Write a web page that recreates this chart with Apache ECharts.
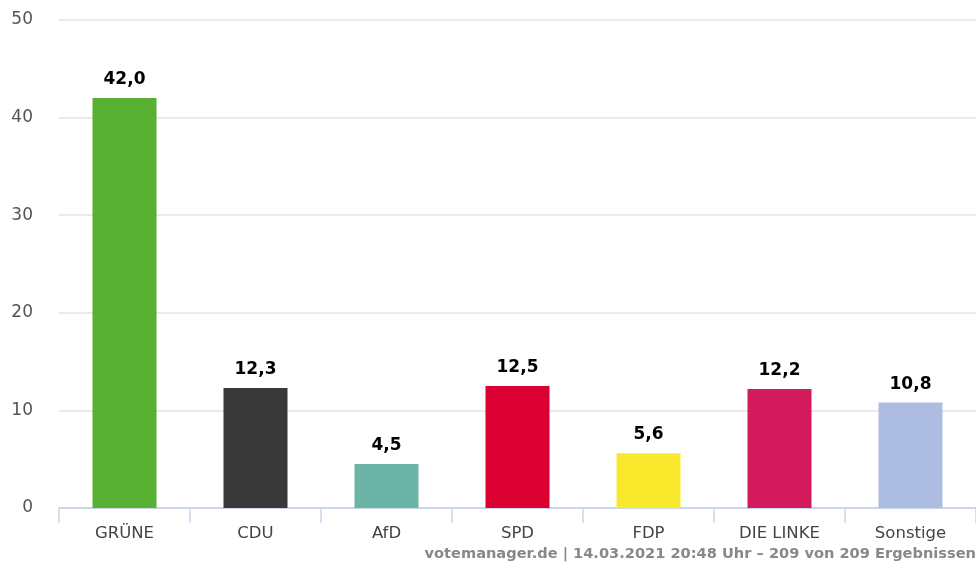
<!DOCTYPE html>
<html>
<head>
<meta charset="utf-8">
<script src="https://cdn.jsdelivr.net/npm/echarts@6/dist/echarts.min.js"></script>
<style>
  html, body { margin: 0; padding: 0; background: #fff; }
  #main { width: 976px; height: 565px; }
</style>
</head>
<body>
<div id="main"></div>
<script>
// Parteien und Ergebnisse (%)
var parties = ['GRÜNE', 'CDU', 'AfD', 'SPD', 'FDP', 'DIE LINKE', 'Sonstige'];
var results = [42.0, 12.3, 4.5, 12.5, 5.6, 12.2, 10.8];
var partyColors = ['#57b031', '#383838', '#6cb4a5', '#dc0032', '#f9e92d', '#d21a5c', '#adbde2'];
var yTicks = [0, 10, 20, 30, 40, 50];

var myChart = echarts.init(document.getElementById('main'));

var option = {
    animation: false,
    textStyle: { fontFamily: 'DejaVu Sans' },
    grid: { left: 59, top: 20, width: 919, bottom: 57 },
    xAxis: {
        type: 'category',
        data: parties,
        axisLine: { lineStyle: { color: '#ccd6eb', width: 2 } },
        axisTick: { show: true, length: 15, lineStyle: { color: '#ccd6eb', width: 1.5 } },
        axisLabel: { color: '#444', fontSize: 16.5, margin: 17 }
    },
    yAxis: {
        type: 'value',
        min: yTicks[0],
        max: yTicks[yTicks.length - 1],
        interval: 10,
        axisLine: { show: false },
        axisTick: { show: false },
        splitLine: { lineStyle: { color: '#e3e3e3', width: 1.5 } },
        axisLabel: { color: '#555', fontSize: 17, margin: 26 }
    },
    series: [{
        type: 'bar',
        barWidth: 64,
        data: results.map(function (v, i) {
            return { value: v, itemStyle: { color: partyColors[i] } };
        }),
        label: {
            show: true,
            position: 'top',
            distance: 10,
            color: '#000',
            fontSize: 17,
            fontWeight: 'bold',
            formatter: function (p) { return p.value.toFixed(1).replace('.', ','); }
        }
    }],
    graphic: [{
        type: 'text',
        right: 0,
        top: 547,
        style: {
            text: 'votemanager.de | 14.03.2021 20:48 Uhr – 209 von 209 Ergebnissen',
            fill: '#888',
            font: 'bold 14.6px "DejaVu Sans"'
        }
    }]
};

myChart.setOption(option);
</script>
</body>
</html>
